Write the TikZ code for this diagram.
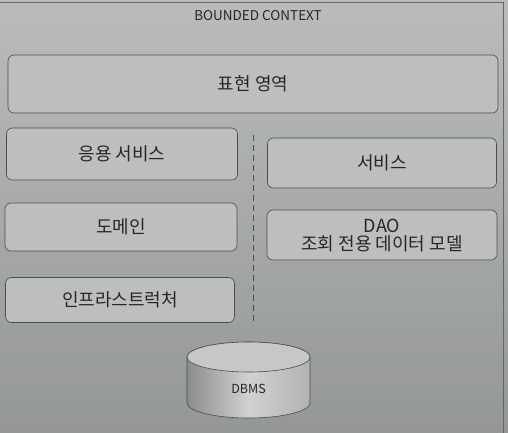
\documentclass[tikz,border=0pt]{standalone}
\usepackage{fontspec}
\setmainfont{Noto Sans CJK KR}
\begin{document}
\begin{tikzpicture}[x=1pt,y=-1pt,
  layerbox/.style={draw=black!70,line width=0.6pt,rounded corners=6pt,fill=boxgray,
    minimum height=50pt,align=center,font=\fontsize{18}{19}\selectfont,text=black!85},
  ]
\definecolor{bggray}{RGB}{155,159,158}
\definecolor{boxgray}{RGB}{188,191,190}
\useasboundingbox (0,0) rectangle (508,433);
\shade[top color=bggray!70!white,bottom color=bggray!95!black] (0,0) rectangle (508,433);
\draw[black!60,line width=0.6pt] (-5,2) -- (503,2) -- (503,440);
\node[font=\fontsize{13.5}{15}\selectfont,text=black!85] (title) at (258,16) {BOUNDED CONTEXT};
\node[layerbox,minimum width=490pt,minimum height=58pt] (pres) at (253,84) {표현 영역};
\node[layerbox,minimum width=231pt,minimum height=52pt] (app) at (122,154) {응용 서비스};
\node[layerbox,minimum width=229pt,minimum height=50pt] (svc) at (382,163) {서비스};
\node[layerbox,minimum width=232pt,minimum height=48pt] (dom) at (121,227) {도메인};
\node[layerbox,minimum width=230pt,minimum height=50pt,inner sep=2pt] (dao) at (382,235) {DAO\\[-1pt]조회 전용 데이터 모델};
\node[layerbox,minimum width=229pt,minimum height=45pt] (infra) at (120,300) {인프라스트럭처};
\coordinate (dtop) at (253,135);
\coordinate (dbot) at (253,325);
\draw[black!70,line width=0.8pt,dash pattern=on 6pt off 4pt] (dtop) -- (dbot);
% DBMS cylinder
\shade[left color=black!45,right color=black!30,middle color=black!18,draw=black!70,line width=0.6pt]
  (187,357) -- (187,403) arc[start angle=180,end angle=360,x radius=61.5pt,y radius=15pt]
  -- (310,357) arc[start angle=0,end angle=180,x radius=61.5pt,y radius=15pt] -- cycle;
\draw[fill=black!22,draw=black!70,line width=0.6pt] (248.5,357) ellipse[x radius=61.5pt,y radius=15pt];
\node[font=\fontsize{12.5}{14}\selectfont,text=black!85] (dbms) at (248.5,389) {DBMS};
\end{tikzpicture}
\end{document}
